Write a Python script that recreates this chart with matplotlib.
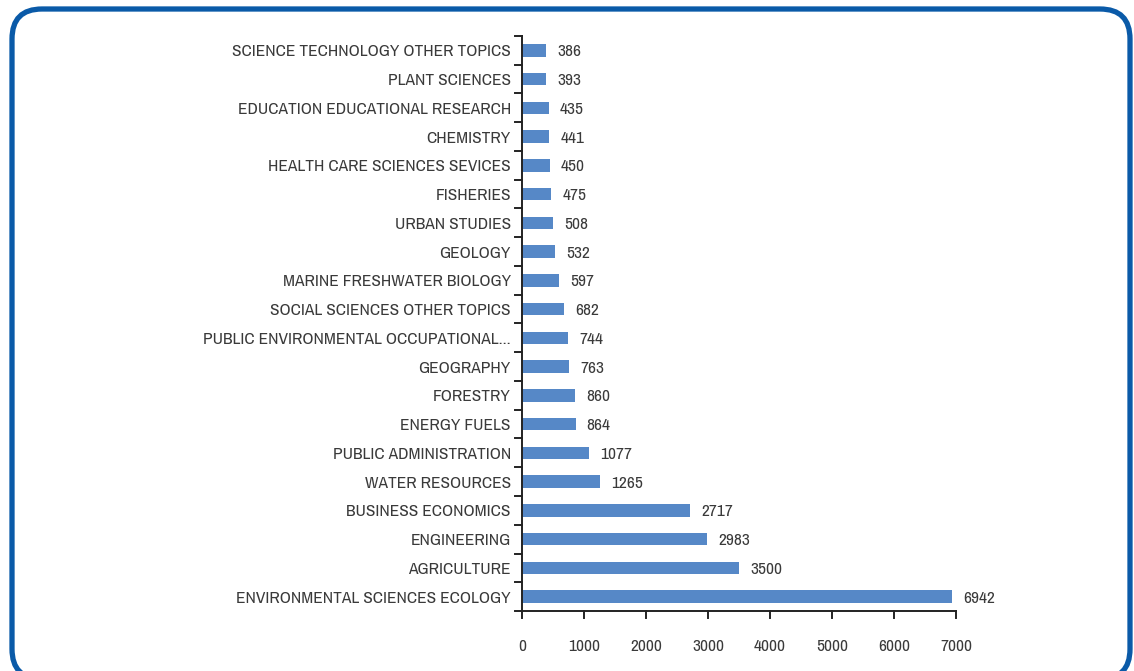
import matplotlib.pyplot as plt
from matplotlib.patches import FancyBboxPatch
from matplotlib import font_manager

# Datos (de abajo hacia arriba)
categories = [
    "ENVIRONMENTAL SCIENCES ECOLOGY", "AGRICULTURE", "ENGINEERING",
    "BUSINESS ECONOMICS", "WATER RESOURCES", "PUBLIC ADMINISTRATION",
    "ENERGY FUELS", "FORESTRY", "GEOGRAPHY",
    "PUBLIC ENVIRONMENTAL OCCUPATIONAL...", "SOCIAL SCIENCES OTHER TOPICS",
    "MARINE FRESHWATER BIOLOGY", "GEOLOGY", "URBAN STUDIES", "FISHERIES",
    "HEALTH CARE SCIENCES SEVICES", "CHEMISTRY",
    "EDUCATION EDUCATIONAL RESEARCH", "PLANT SCIENCES",
    "SCIENCE TECHNOLOGY OTHER TOPICS",
]
counts = [6942, 3500, 2983, 2717, 1265, 1077, 864, 860, 763, 744,
          682, 597, 532, 508, 475, 450, 441, 435, 393, 386]
xticks = [0, 1000, 2000, 3000, 4000, 5000, 6000, 7000]

# buscar una fuente estrecha si hay alguna
narrow = None
for f in font_manager.fontManager.ttflist:
    low = f.name.lower()
    if 'narrow' in low or 'condensed' in low:
        narrow = f.name
        break
if narrow is None:
    for f in font_manager.fontManager.ttflist:
        if f.stretch in ('condensed', 'semi-condensed', 600, 700, 300, 'narrow') \
                or 'condensed' in f.fname.lower():
            narrow = f.name
            plt.rcParams['font.stretch'] = 'condensed'
            break
if narrow is None:
    narrow = 'Liberation Sans'
plt.rcParams['font.family'] = [narrow, 'DejaVu Sans']
plt.rcParams['font.size'] = 12.5
text_color = '#3a3a3a'

fig = plt.figure(figsize=(11.34, 6.71), dpi=100)
ax = fig.add_axes([0.4603, 0.0894, 0.3827, 0.8570])

y = list(range(len(categories)))
ax.barh(y, counts, height=0.44, color='#5688c7')
for yi, v in zip(y, counts):
    ax.text(v + 180, yi - 0.05, str(v), va='center', ha='left',
            fontsize=12.5, color=text_color)

ax.set_xlim(0, 7000)
ax.set_ylim(-0.5, len(categories) - 0.5)
ax.set_xticks(xticks)
ax.set_xticklabels([str(t) for t in xticks], color=text_color)
ax.set_yticks(y)
ax.set_yticklabels(categories, color=text_color)
ax.tick_params(axis='y', length=0, pad=8)
ax.tick_params(axis='x', length=0, pad=20)

# marcas de Excel entre categorias
for b in [i - 0.5 for i in range(len(categories) + 1)]:
    ax.plot([-110, 0], [b, b], color='#222222', lw=1.4, clip_on=False)
for t in xticks:
    ax.plot([t, t], [-0.5, -0.73], color='#222222', lw=1.4, clip_on=False)

for s in ['top', 'right']:
    ax.spines[s].set_visible(False)
for s in ['left', 'bottom']:
    ax.spines[s].set_color('#222222')
    ax.spines[s].set_linewidth(1.4)

# borde redondeado azul, en pixeles (origen abajo)
W, H = 1134, 671
bg = fig.add_axes([0, 0, 1, 1], zorder=-1)
bg.set_xlim(0, W)
bg.set_ylim(0, H)
bg.axis('off')
bg.add_patch(FancyBboxPatch((12, -8), 1118, 670,
                            boxstyle="round,pad=0,rounding_size=30",
                            fill=False, edgecolor='#0a5aa8', linewidth=3.8))

fig.savefig('out.png', dpi=100)
